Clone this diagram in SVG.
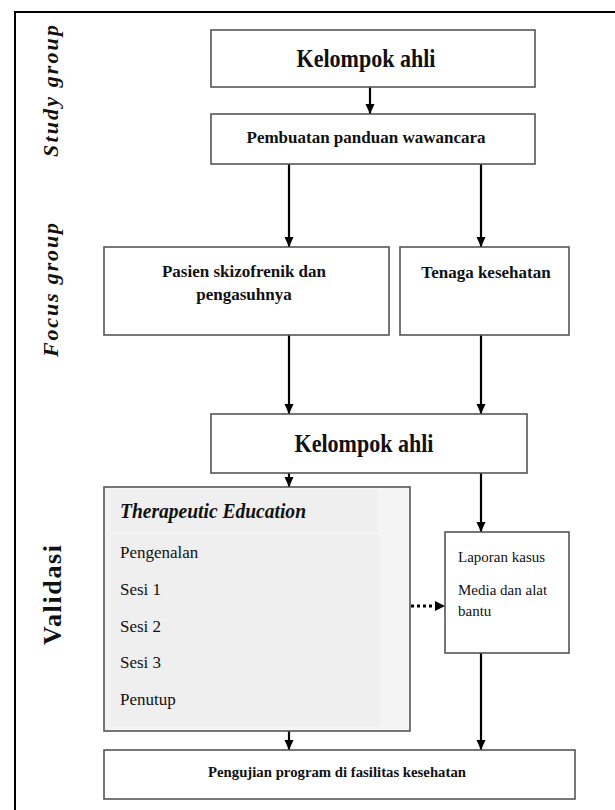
<svg xmlns="http://www.w3.org/2000/svg" width="615" height="810" viewBox="0 0 615 810">
  <style>
    .box { fill: #ffffff; stroke: #555555; stroke-width: 1.6; }
    .te { fill: #f4f4f4; stroke: #555555; stroke-width: 1.6; }
    .panel { fill: #efefef; stroke: none; }
    .t { font-family: "Liberation Serif", "Times New Roman", serif; fill: #111111; }
    .b { font-weight: bold; }
    .i { font-style: italic; }
    .c { text-anchor: middle; }
    .conn { stroke: #000000; stroke-width: 2.2; fill: none; }
    .dot { stroke: #000000; stroke-width: 3; stroke-dasharray: 3 3; fill: none; }
    .frame { stroke: #000000; stroke-width: 2; fill: none; }
  </style>
  <defs>
    <marker id="ah" markerUnits="userSpaceOnUse" markerWidth="10" markerHeight="12" refX="10" refY="4.5" orient="auto">
      <path d="M0,0 L10,4.5 L0,9 Z" fill="#000000"/>
    </marker>
  </defs>

  <rect width="615" height="810" fill="#ffffff"/>

  <g id="frame">
    <path class="frame" d="M15,810 L15,12 L615,12"/>
  </g>

  <g id="lane-labels">
    <text class="t b i c" font-size="22" transform="translate(58,91) rotate(-90)" textLength="132" lengthAdjust="spacing">Study group</text>
    <text class="t b i c" font-size="22" transform="translate(58,290) rotate(-90)" textLength="134" lengthAdjust="spacing">Focus group</text>
    <text class="t b c" font-size="26" transform="translate(61,595) rotate(-90)" textLength="100" lengthAdjust="spacing">Validasi</text>
  </g>

  <g id="connectors">
    <line class="conn" x1="370" y1="87" x2="370" y2="114" marker-end="url(#ah)"/>
    <line class="conn" x1="289" y1="164" x2="289" y2="247" marker-end="url(#ah)"/>
    <line class="conn" x1="481" y1="164" x2="481" y2="247" marker-end="url(#ah)"/>
    <line class="conn" x1="289" y1="335" x2="289" y2="414" marker-end="url(#ah)"/>
    <line class="conn" x1="481" y1="335" x2="481" y2="414" marker-end="url(#ah)"/>
    <line class="conn" x1="289" y1="473" x2="289" y2="487" marker-end="url(#ah)"/>
    <line class="conn" x1="481" y1="473" x2="481" y2="532" marker-end="url(#ah)"/>
    <line class="conn" x1="289" y1="731" x2="289" y2="750" marker-end="url(#ah)"/>
    <line class="conn" x1="481" y1="653" x2="481" y2="750" marker-end="url(#ah)"/>
    <line class="dot" x1="411" y1="606" x2="436" y2="606"/>
    <path d="M435,601 L445,606 L435,611 Z" fill="#000000"/>
  </g>

  <g id="kelompok-ahli-1">
    <rect class="box" x="211" y="30" width="324" height="57"/>
    <text class="t b c" x="366" y="67" font-size="25" textLength="139" lengthAdjust="spacingAndGlyphs">Kelompok ahli</text>
  </g>

  <g id="pembuatan-panduan">
    <rect class="box" x="211" y="114" width="324" height="50"/>
    <text class="t b c" x="366" y="143" font-size="17">Pembuatan panduan wawancara</text>
  </g>

  <g id="pasien">
    <rect class="box" x="104" y="247" width="285" height="88"/>
    <text class="t b c" x="244" y="277" font-size="17">Pasien skizofrenik dan</text>
    <text class="t b c" x="244" y="300" font-size="17">pengasuhnya</text>
  </g>

  <g id="tenaga-kesehatan">
    <rect class="box" x="400" y="247" width="169" height="88"/>
    <text class="t b c" x="486" y="278" font-size="17">Tenaga kesehatan</text>
  </g>

  <g id="kelompok-ahli-2">
    <rect class="box" x="211" y="414" width="316" height="59"/>
    <text class="t b c" x="364" y="452" font-size="25" textLength="139" lengthAdjust="spacingAndGlyphs">Kelompok ahli</text>
  </g>

  <g id="therapeutic-education">
    <rect class="te" x="104" y="487" width="306" height="244"/>
    <rect class="panel" x="110" y="490" width="268" height="42"/>
    <rect class="panel" x="110" y="535" width="270" height="191"/>
    <text class="t b i" x="120" y="518" font-size="20" textLength="186" lengthAdjust="spacingAndGlyphs">Therapeutic Education</text>
    <text class="t" x="120" y="558" font-size="17">Pengenalan</text>
    <text class="t" x="120" y="595" font-size="17">Sesi 1</text>
    <text class="t" x="120" y="632" font-size="17">Sesi 2</text>
    <text class="t" x="120" y="668" font-size="17">Sesi 3</text>
    <text class="t" x="120" y="705" font-size="17">Penutup</text>
  </g>

  <g id="laporan">
    <rect class="box" x="445" y="532" width="124" height="121"/>
    <text class="t" x="458" y="562" font-size="15">Laporan kasus</text>
    <text class="t" x="458" y="595" font-size="15">Media dan alat</text>
    <text class="t" x="458" y="616" font-size="15">bantu</text>
  </g>

  <g id="pengujian">
    <rect class="box" x="104" y="750" width="471" height="49"/>
    <text class="t b c" x="337" y="777" font-size="15" textLength="258" lengthAdjust="spacingAndGlyphs">Pengujian program di fasilitas kesehatan</text>
  </g>
</svg>
